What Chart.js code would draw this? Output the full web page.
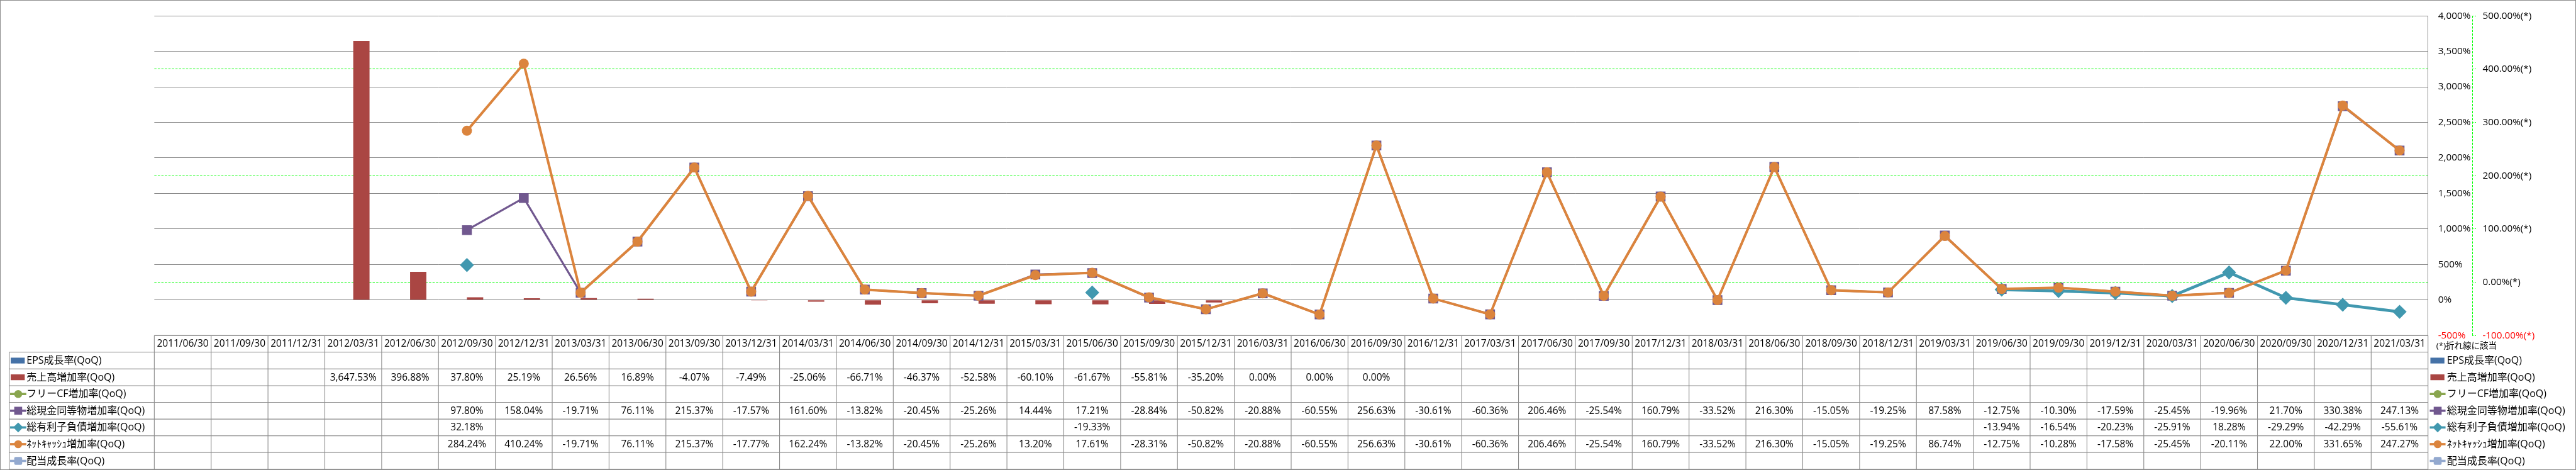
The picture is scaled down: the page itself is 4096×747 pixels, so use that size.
<!DOCTYPE html>
<html>
<head>
<meta charset="utf-8">
<script src="https://cdn.jsdelivr.net/npm/chart.js@4/dist/chart.umd.min.js"></script>
<style>
html,body{margin:0;padding:0;background:#fff;overflow:hidden}
canvas{display:block}
</style>
</head>
<body>
<canvas id="c" width="4096" height="747"></canvas>
<script>
// ---------------- DATA ----------------
const categories = [
  '2011/06/30','2011/09/30','2011/12/31','2012/03/31','2012/06/30','2012/09/30','2012/12/31','2013/03/31',
  '2013/06/30','2013/09/30','2013/12/31','2014/03/31','2014/06/30','2014/09/30','2014/12/31','2015/03/31',
  '2015/06/30','2015/09/30','2015/12/31','2016/03/31','2016/06/30','2016/09/30','2016/12/31','2017/03/31',
  '2017/06/30','2017/09/30','2017/12/31','2018/03/31','2018/06/30','2018/09/30','2018/12/31','2019/03/31',
  '2019/06/30','2019/09/30','2019/12/31','2020/03/31','2020/06/30','2020/09/30','2020/12/31','2021/03/31'
];
const seriesNames = [
  'EPS成長率(QoQ)',
  '売上高増加率(QoQ)',
  'フリーCF増加率(QoQ)',
  '総現金同等物増加率(QoQ)',
  '総有利子負債増加率(QoQ)',
  'ﾈｯﾄｷｬｯｼｭ増加率(QoQ)',
  '配当成長率(QoQ)'
];
const epsGrowth = [];
const salesGrowth = [null,null,null,3647.53,396.88,37.80,25.19,26.56,16.89,-4.07,-7.49,-25.06,-66.71,-46.37,-52.58,
  -60.10,-61.67,-55.81,-35.20,0.00,0.00,0.00];
const freeCfGrowth = [];
const cashGrowth = [null,null,null,null,null,97.80,158.04,-19.71,76.11,215.37,-17.57,161.60,-13.82,-20.45,-25.26,
  14.44,17.21,-28.84,-50.82,-20.88,-60.55,256.63,-30.61,-60.36,206.46,-25.54,160.79,-33.52,216.30,-15.05,-19.25,
  87.58,-12.75,-10.30,-17.59,-25.45,-19.96,21.70,330.38,247.13];
const debtGrowth = [null,null,null,null,null,32.18,null,null,null,null,null,null,null,null,null,null,-19.33,
  null,null,null,null,null,null,null,null,null,null,null,null,null,null,null,
  -13.94,-16.54,-20.23,-25.91,18.28,-29.29,-42.29,-55.61];
const netCashGrowth = [null,null,null,null,null,284.24,410.24,-19.71,76.11,215.37,-17.77,162.24,-13.82,-20.45,-25.26,
  13.20,17.61,-28.31,-50.82,-20.88,-60.55,256.63,-30.61,-60.36,206.46,-25.54,160.79,-33.52,216.30,-15.05,-19.25,
  86.74,-12.75,-10.28,-17.58,-25.45,-20.11,22.00,331.65,247.27];
const dividendGrowth = [];
const primaryAxis = {min: -500, max: 4000, step: 500};
const secondaryAxis = {min: -100, max: 500, step: 100};
const secondaryGridValues = [0, 200, 400];
const noteText = '(*)折れ線に該当';

// ---------------- STYLE ----------------
const S = 0.697;
const FONT = "'Open Sans','Noto Sans CJK JP',sans-serif";
const GRID_GRAY = '#878787';
const TABLE_LINE = '#8c8c8c';
const GREEN = '#00FF00';
const RED = '#FF0000';
const colors = ['#4572A7','#AA4643','#89A54E','#71588F','#4198AF','#DB843D','#93A9CF'];
const kinds = ['bar','bar','line','line','line','line','line'];
const styles = [null,null,'circle','rect','rectRot','circle','rectRounded'];

Chart.defaults.font.family = FONT;
Chart.defaults.color = '#000';

function fmtPct(v) {
  return v.toLocaleString('en-US', {minimumFractionDigits: 2, maximumFractionDigits: 2}) + '%';
}

function drawMarker(ctx, style, x, y, r, color) {
  ctx.fillStyle = color;
  ctx.beginPath();
  if (style === 'circle') {
    ctx.arc(x, y, r, 0, Math.PI * 2);
  } else if (style === 'rect') {
    ctx.rect(x - r, y - r, 2 * r, 2 * r);
  } else if (style === 'rectRot') {
    const d = r * 1.25;
    ctx.moveTo(x, y - d); ctx.lineTo(x + d, y); ctx.lineTo(x, y + d); ctx.lineTo(x - d, y); ctx.closePath();
  } else {
    const cr = r * 0.35;
    ctx.moveTo(x - r + cr, y - r);
    ctx.arcTo(x + r, y - r, x + r, y + r, cr);
    ctx.arcTo(x + r, y + r, x - r, y + r, cr);
    ctx.arcTo(x - r, y + r, x - r, y - r, cr);
    ctx.arcTo(x - r, y - r, x + r, y - r, cr);
    ctx.closePath();
  }
  ctx.fill();
}

function drawSwatch(ctx, i, x0, x1, yc) {
  const color = colors[i];
  if (kinds[i] === 'bar') {
    ctx.fillStyle = color;
    ctx.fillRect(x0 + 1.0, yc - 4.6, 22.3, 9.2);
  } else {
    ctx.strokeStyle = color;
    ctx.lineWidth = 3.6;
    ctx.beginPath(); ctx.moveTo(x0, yc); ctx.lineTo(x1, yc); ctx.stroke();
    drawMarker(ctx, styles[i], (x0 + x1) / 2, yc, 6.3, color);
  }
}

const seriesData = [epsGrowth, salesGrowth, freeCfGrowth, cashGrowth, debtGrowth, netCashGrowth, dividendGrowth];

const tablePlugin = {
  id: 'dataTable',
  afterDraw(chart) {
    const {ctx, chartArea} = chart;
    const xs = chart.scales.x;
    const y2 = chart.scales.y2;
    const n = categories.length;
    const colW = xs.getPixelForValue(1) - xs.getPixelForValue(0);
    const gridLeft = xs.getPixelForValue(0) - colW / 2;
    const gridRight = xs.getPixelForValue(n - 1) + colW / 2;
    const top = chartArea.bottom;
    const nRows = seriesNames.length + 1;
    const bottom = chart.height - 1.2;
    const rowH = (bottom - top) / nRows;
    const labelLeft = 21 * S;

    ctx.save();
    // secondary axis dashed line
    ctx.strokeStyle = GREEN;
    ctx.lineWidth = 1;
    ctx.setLineDash([3.5, 2.1]);
    ctx.beginPath();
    ctx.moveTo(Math.round(y2.left) + 0.5, y2.top);
    ctx.lineTo(Math.round(y2.left) + 0.5, y2.bottom);
    ctx.stroke();
    ctx.setLineDash([]);

    // table grid
    ctx.strokeStyle = TABLE_LINE;
    ctx.lineWidth = 1.1;
    ctx.beginPath();
    ctx.moveTo(gridLeft, top); ctx.lineTo(gridRight, top);
    for (let r = 1; r <= nRows; r++) {
      const y = top + r * rowH;
      ctx.moveTo(labelLeft, y); ctx.lineTo(gridRight, y);
    }
    for (let c = 0; c <= n; c++) {
      const x = gridLeft + c * colW;
      ctx.moveTo(x, top); ctx.lineTo(x, bottom);
    }
    ctx.moveTo(labelLeft, top + rowH); ctx.lineTo(labelLeft, bottom);
    ctx.stroke();

    // header
    ctx.fillStyle = '#000';
    ctx.textAlign = 'center';
    ctx.textBaseline = 'middle';
    ctx.font = `15.5px ${FONT}`;
    for (let c = 0; c < n; c++) {
      ctx.fillText(categories[c], xs.getPixelForValue(c), top + rowH / 2 + 0.5);
    }
    // values
    for (let s = 0; s < seriesData.length; s++) {
      const yc = top + (s + 1.5) * rowH + 0.5;
      const arr = seriesData[s];
      for (let c = 0; c < n; c++) {
        const v = arr[c];
        if (v === null || v === undefined) continue;
        ctx.fillStyle = '#000';
        ctx.fillText(fmtPct(v), xs.getPixelForValue(c), yc);
      }
    }
    // row labels (left) and legend (right)
    ctx.textAlign = 'left';
    ctx.font = `16px ${FONT}`;
    for (let s = 0; s < seriesNames.length; s++) {
      const yc = top + (s + 1.5) * rowH;
      drawSwatch(ctx, s, 23 * S, 60 * S, yc);
      ctx.fillStyle = '#000';
      ctx.fillText(seriesNames[s], 60.6 * S, yc + 0.5);
      drawSwatch(ctx, s, 5543 * S, 5579 * S, yc);
      ctx.fillStyle = '#000';
      ctx.fillText(seriesNames[s], 5582 * S, yc + 0.5);
    }
    // note
    ctx.font = `13.5px ${FONT}`;
    ctx.fillStyle = '#000';
    ctx.fillText(noteText, 5557.7 * S, 790 * S);

    // outer border
    ctx.strokeStyle = TABLE_LINE;
    ctx.lineWidth = 1;
    ctx.strokeRect(0.5, 0.5, chart.width - 1, chart.height - 1);
    ctx.restore();
  }
};

const lineCommon = {
  type: 'line', yAxisID: 'y2', fill: false, tension: 0, spanGaps: false, pointBorderWidth: 0
};

new Chart(document.getElementById('c'), {
  type: 'bar',
  data: {
    labels: categories,
    datasets: [
      {type: 'bar', label: seriesNames[0], data: epsGrowth, backgroundColor: colors[0], yAxisID: 'y', order: 20,
       categoryPercentage: 0.573, barPercentage: 1.0, borderWidth: 0},
      {type: 'bar', label: seriesNames[1], data: salesGrowth, backgroundColor: colors[1], yAxisID: 'y', order: 21,
       categoryPercentage: 0.573, barPercentage: 1.0, borderWidth: 0},
      Object.assign({}, lineCommon, {label: seriesNames[2], data: freeCfGrowth, borderColor: colors[2],
       backgroundColor: colors[2], pointBackgroundColor: colors[2], pointStyle: 'circle', pointRadius: 8, borderWidth: 3.6, order: 4}),
      Object.assign({}, lineCommon, {label: seriesNames[3], data: cashGrowth, borderColor: colors[3],
       backgroundColor: colors[3], pointBackgroundColor: colors[3], pointStyle: 'rect', pointRadius: 11, borderWidth: 3.2, order: 3}),
      Object.assign({}, lineCommon, {label: seriesNames[4], data: debtGrowth, borderColor: colors[4],
       backgroundColor: colors[4], pointBackgroundColor: colors[4], pointStyle: 'rectRot', pointRadius: 11.2, borderWidth: 4.6, order: 2}),
      Object.assign({}, lineCommon, {label: seriesNames[5], data: netCashGrowth, borderColor: colors[5],
       backgroundColor: colors[5], pointBackgroundColor: colors[5], pointStyle: 'circle', pointRadius: 8, borderWidth: 4.0, order: 1}),
      Object.assign({}, lineCommon, {label: seriesNames[6], data: dividendGrowth, borderColor: colors[6],
       backgroundColor: colors[6], pointBackgroundColor: colors[6], pointStyle: 'rectRounded', pointRadius: 9, borderWidth: 3.6, order: 0})
    ]
  },
  options: {
    responsive: false,
    animation: false,
    devicePixelRatio: 1,
    events: [],
    layout: {
      padding: {left: 352 * S, top: 15.3 * S, bottom: 747 - 765 * S, right: 4096 - 5539 * S - (5639.3 - 5539) * S - 120}
    },
    plugins: {legend: {display: false}, tooltip: {enabled: false}},
    scales: {
      x: {display: false, offset: true, grid: {display: false}},
      y: {
        position: 'right', weight: 0,
        min: primaryAxis.min, max: primaryAxis.max,
        grid: {color: GRID_GRAY, lineWidth: 1, drawTicks: false},
        border: {display: true, color: GRID_GRAY, width: 1},
        ticks: {
          stepSize: primaryAxis.step, autoSkip: false, padding: 16.0,
          font: {size: 15.3},
          color: c => (c.tick.value < 0 ? RED : '#000'),
          callback: v => v.toLocaleString('en-US') + '%'
        },
        afterFit: s => { s.width = (5639.3 - 5539) * S; }
      },
      y2: {
        position: 'right', weight: 1,
        min: secondaryAxis.min, max: secondaryAxis.max,
        grid: {
          color: c => (secondaryGridValues.includes(c.tick && c.tick.value) ? GREEN : 'rgba(0,0,0,0)'),
          lineWidth: 1, drawTicks: true, tickLength: 6.3, tickColor: GREEN, tickBorderDash: [2, 2]
        },
        border: {display: false, dash: [3.5, 2.1]},
        ticks: {
          stepSize: secondaryAxis.step, autoSkip: false, padding: 10.5,
          font: {size: 15.3},
          color: c => (c.tick.value < 0 ? RED : '#000'),
          callback: v => v.toFixed(2) + '%(*)'
        },
        afterFit: s => { s.width = 120; }
      }
    }
  },
  plugins: [tablePlugin]
});
</script>
</body>
</html>
